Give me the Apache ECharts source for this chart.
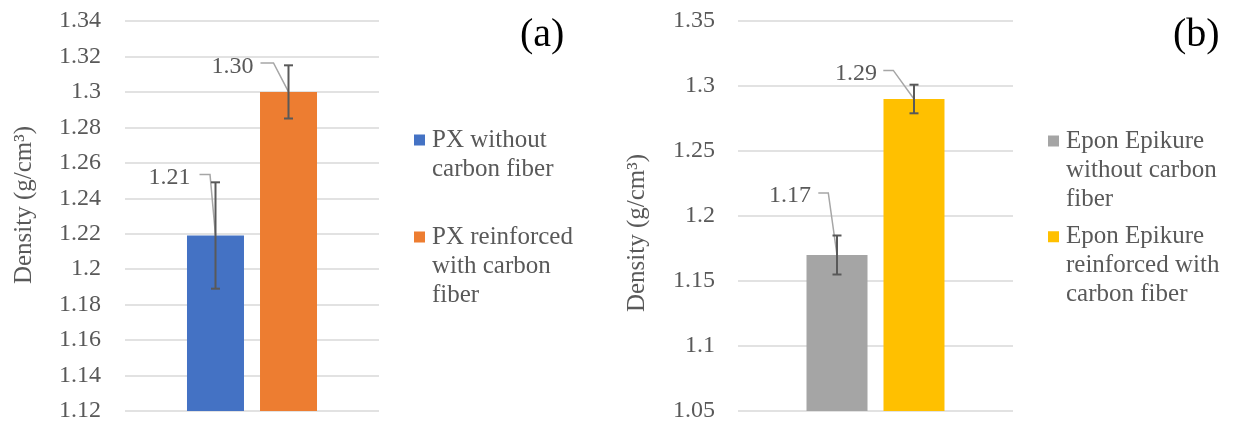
<!DOCTYPE html>
<html><head><meta charset="utf-8">
<script src="https://cdn.jsdelivr.net/npm/echarts@6/dist/echarts.min.js"></script>
<style>html,body{margin:0;padding:0;background:#fff}#c{width:1233px;height:423px}</style>
</head><body><div id="c"></div>
<script>
// ---------- Data ----------
const namesA = ['PX without carbon fiber', 'PX reinforced with carbon fiber'];
const legendTextA = ['PX without\ncarbon fiber', 'PX reinforced\nwith carbon\nfiber'];
const valuesA = [1.219, 1.300];
const errorsA = [0.030, 0.015];
const labelsA = ['1.21', '1.30'];
const yTicksA = [1.12, 1.14, 1.16, 1.18, 1.20, 1.22, 1.24, 1.26, 1.28, 1.30, 1.32, 1.34];

const namesB = ['Epon Epikure without carbon fiber', 'Epon Epikure reinforced with carbon fiber'];
const legendTextB = ['Epon Epikure\nwithout carbon\nfiber', 'Epon Epikure\nreinforced with\ncarbon fiber'];
const valuesB = [1.170, 1.290];
const errorsB = [0.015, 0.011];
const labelsB = ['1.17', '1.29'];
const yTicksB = [1.05, 1.10, 1.15, 1.20, 1.25, 1.30, 1.35];

const panelTags = ['(a)', '(b)'];
const axisTitle = 'Density (g/cm³)';

// ---------- Styles / layout ----------
const FONT = 'Liberation Serif';
const TXT = '#595959';
const colorsA = ['#4472C4', '#ED7D31'];
const colorsB = ['#A5A5A5', '#FFC000'];
const barA = {w: 57, gap: 16};
const barB = {w: 61, gap: 16};
const offsA = [{cx: -5.5, ex: -16, dy: -61, tx: -25, ty: -58},
               {cx: -15, ex: -28, dy: -29, tx: -35, ty: -25.7}];
const offsB = [{cx: -8.7, ex: -18.7, dy: -62, tx: -26, ty: -59.5},
               {cx: -20.7, ex: -30.7, dy: -28.6, tx: -37, ty: -25}];
const LH = 29;

function legendIcon(lines, maxLines) {
  const h = maxLines * LH;
  const c = h / 2 - (lines - 1) * LH / 2;
  return 'path://M0,' + (c - 5.5) + 'H11V' + (c + 5.5) + 'H0Z M0,0L0.01,0 M0,' + h + 'L0.01,' + h;
}

function overlay(idx, values, errors, labels, offs, bar) {
  return {
    type: 'custom', xAxisIndex: idx, yAxisIndex: idx, z: 5, silent: true, clip: false,
    data: values.map((v, i) => [0, v, v - errors[i], v + errors[i], i]),
    encode: {x: 0, y: 1},
    renderItem(params, api) {
      const i = api.value(4);
      const shift = (i - (values.length - 1) / 2) * (bar.w + bar.gap);
      const top = api.coord([0, api.value(1)]);
      const cx = top[0] + shift, ty = top[1];
      const yHi = api.coord([0, api.value(3)])[1];
      const yLo = api.coord([0, api.value(2)])[1];
      const o = offs[i];
      const err = {stroke: '#595959', lineWidth: 2};
      return {type: 'group', children: [
        {type: 'polyline', shape: {points: [[cx + o.ex, ty + o.dy], [cx + o.cx, ty + o.dy], [cx, ty]]},
         style: {stroke: '#A6A6A6', lineWidth: 1.5, fill: null}},
        {type: 'line', shape: {x1: cx, y1: yHi, x2: cx, y2: yLo}, style: err},
        {type: 'line', shape: {x1: cx - 4.5, y1: yHi, x2: cx + 4.5, y2: yHi}, style: err},
        {type: 'line', shape: {x1: cx - 4.5, y1: yLo, x2: cx + 4.5, y2: yLo}, style: err},
        {type: 'text', style: {text: labels[i], x: cx + o.tx, y: ty + o.ty, align: 'right', verticalAlign: 'middle',
          fontFamily: FONT, fontSize: 24, fill: TXT}}
      ]};
    }
  };
}

function yAxis(idx, ticks, margin, namePad) {
  return {
    type: 'value', gridIndex: idx, min: ticks[0], max: ticks[ticks.length - 1],
    interval: +(ticks[1] - ticks[0]).toFixed(4),
    axisLine: {show: false}, axisTick: {show: false},
    axisLabel: {fontFamily: FONT, fontSize: 24, color: TXT, margin: margin},
    splitLine: {lineStyle: {color: '#D9D9D9', width: 1.5}},
    name: axisTitle, nameLocation: 'middle', nameGap: 88,
    nameTextStyle: {fontFamily: FONT, fontSize: 25, color: TXT, padding: namePad}
  };
}

function bars(idx, names, values, colors, bar) {
  return names.map((n, i) => ({
    type: 'bar', name: n, xAxisIndex: idx, yAxisIndex: idx,
    data: [values[i]], barWidth: bar.w, barGap: (bar.gap / bar.w * 100).toFixed(1) + '%',
    itemStyle: {color: colors[i]}, silent: true
  }));
}

function legend(names, texts, left, top, gap) {
  const maxLines = 3;
  return {
    orient: 'vertical', left: left, top: top, padding: 0, itemGap: gap,
    itemWidth: 11, itemHeight: maxLines * LH, selectedMode: false,
    data: names.map((n, i) => ({name: n, icon: legendIcon(texts[i].split('\n').length, maxLines)})),
    formatter: name => texts[names.indexOf(name)],
    textStyle: {fontFamily: FONT, fontSize: 25, color: TXT, lineHeight: LH, padding: [0, 0, 0, 2]}
  };
}

const chart = echarts.init(document.getElementById('c'), null, {renderer: 'canvas'});
chart.setOption({
  animation: false,
  backgroundColor: '#fff',
  title: [
    {text: panelTags[0], left: 520, top: 15, padding: 0, textStyle: {fontFamily: FONT, fontSize: 40, fontWeight: 'normal', color: '#000', lineHeight: 40}},
    {text: panelTags[1], left: 1173, top: 15, padding: 0, textStyle: {fontFamily: FONT, fontSize: 40, fontWeight: 'normal', color: '#000', lineHeight: 40}}
  ],
  legend: [
    legend(namesA, legendTextA, 414, 111, 24.5),
    legend(namesB, legendTextB, 1048, 126.5, 8.7)
  ],
  grid: [
    {left: 125, top: 21, width: 254, height: 390},
    {left: 738, top: 21, width: 275, height: 391}
  ],
  xAxis: [
    {type: 'category', gridIndex: 0, data: [''], axisLine: {show: false}, axisTick: {show: false}, axisLabel: {show: false}},
    {type: 'category', gridIndex: 1, data: [''], axisLine: {show: false}, axisTick: {show: false}, axisLabel: {show: false}}
  ],
  yAxis: [yAxis(0, yTicksA, 24, [0, 0, 0, 22]), yAxis(1, yTicksB, 23, [0, 34, 0, 0])],
  series: [
    ...bars(0, namesA, valuesA, colorsA, barA),
    ...bars(1, namesB, valuesB, colorsB, barB),
    overlay(0, valuesA, errorsA, labelsA, offsA, barA),
    overlay(1, valuesB, errorsB, labelsB, offsB, barB)
  ]
});
</script></body></html>
